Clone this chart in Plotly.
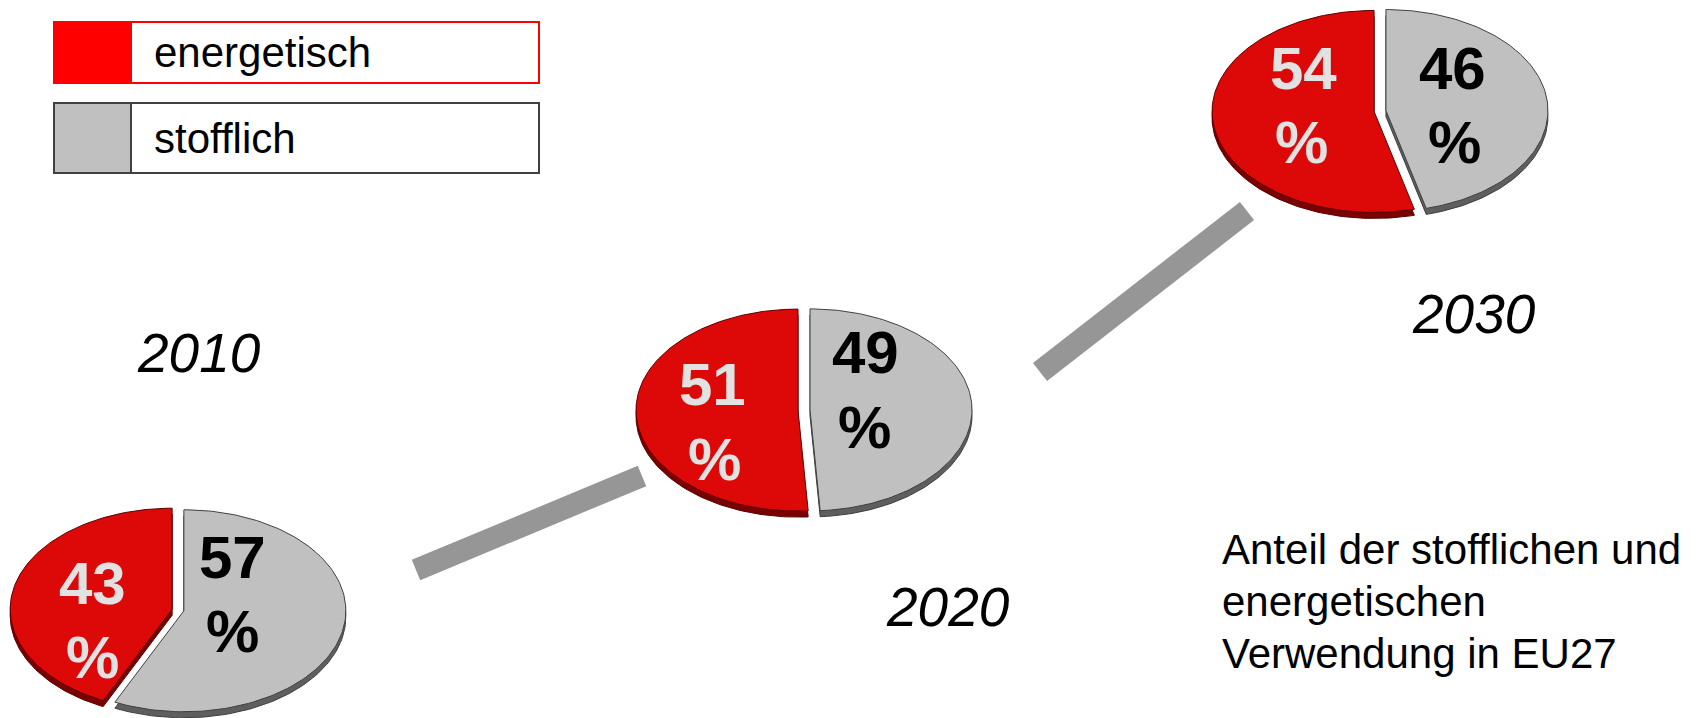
import numpy as np
import plotly.graph_objects as go

# ---- data ----
years = ["2010", "2020", "2030"]
energetisch = [43, 51, 54]   # % energetische Verwendung
stofflich = [57, 49, 46]     # % stoffliche Verwendung
legend_labels = ["energetisch", "stofflich"]
caption_lines = ["Anteil der stofflichen und", "energetischen", "Verwendung in EU27"]

# ---- layout constants (pixels) ----
W, H = 1699, 718
centers = [(178, 610), (804, 410), (1380, 111)]
RX, RY = 162, 101
EXPLODE = 6
DEPTH = 6
FONT = "Arial, Liberation Sans, sans-serif"

RED, RED_SIDE, RED_EDGE = "#DD0808", "#7A0000", "#5A0000"
GRAY, GRAY_SIDE, GRAY_EDGE = "#C0C0C0", "#5E5E5E", "#404040"

# label positions: (red number, red %, gray number, gray %)
label_pos = [
    [(92, 583), (92, 657), (232, 557), (232, 631)],
    [(712, 384), (714, 459), (865, 352), (864, 427)],
    [(1303, 68), (1301, 142), (1452, 68), (1454, 142)],
]
year_pos = [(199, 353), (948, 607), (1474, 314)]
connectors = [((416, 570), (642, 476), 22), ((1040, 372), (1247, 211), 23)]


def slice_xy(cx, cy, t0, t1, dy=0, n=140):
    tm = (t0 + t1) / 2
    ox = EXPLODE * np.sin(tm)
    oy = -EXPLODE * np.cos(tm) * 0.6
    th = np.linspace(t0, t1, n)
    xs = np.concatenate([[cx + ox], cx + ox + RX * np.sin(th), [cx + ox]])
    ys = np.concatenate([[cy + oy + dy], cy + oy + dy - RY * np.cos(th), [cy + oy + dy]])
    return xs, ys


fig = go.Figure()

for i, yr in enumerate(years):
    cx, cy = centers[i]
    total = energetisch[i] + stofflich[i]
    split = 2 * np.pi * stofflich[i] / total
    parts = [
        (0, split, GRAY, GRAY_SIDE, GRAY_EDGE),          # stofflich, clockwise from top
        (split, 2 * np.pi, RED, RED_SIDE, RED_EDGE),    # energetisch
    ]
    # sides (3D depth)
    for t0, t1, face, side, edge in parts:
        xs, ys = slice_xy(cx, cy, t0, t1, dy=DEPTH)
        fig.add_trace(go.Scatter(x=xs, y=ys, mode="lines", fill="toself",
                                 fillcolor=side, line=dict(color=edge, width=1),
                                 hoverinfo="skip", showlegend=False))
    # top faces
    for t0, t1, face, side, edge in parts:
        xs, ys = slice_xy(cx, cy, t0, t1)
        fig.add_trace(go.Scatter(x=xs, y=ys, mode="lines", fill="toself",
                                 fillcolor=face, line=dict(color=edge, width=1),
                                 hoverinfo="skip", showlegend=False))

annotations = []
for i, yr in enumerate(years):
    rp, rpp, gp, gpp = label_pos[i]
    for (x, y), txt, col in [(rp, str(energetisch[i]), "#E2E2E2"), (rpp, "%", "#E2E2E2"),
                             (gp, str(stofflich[i]), "#000000"), (gpp, "%", "#000000")]:
        annotations.append(dict(x=x, y=y, xref="x", yref="y", text=txt, showarrow=False,
                                xanchor="center", yanchor="middle",
                                font=dict(family=FONT, size=60, color=col, weight="bold")))
    annotations.append(dict(x=year_pos[i][0], y=year_pos[i][1], xref="x", yref="y", text=yr,
                            showarrow=False, xanchor="center", yanchor="middle",
                            font=dict(family=FONT, size=55, color="#000000", style="italic")))

for k, line in enumerate(caption_lines):
    annotations.append(dict(x=1220, y=549 + 52 * k, xref="x", yref="y", text=line,
                            showarrow=False, xanchor="left", yanchor="middle",
                            font=dict(family=FONT, size=42, color="#000000")))

# legend boxes
shapes = []
leg_boxes = [(22, 83, "#FF0000", "#FF0000"), (103, 173, GRAY, "#404040")]
for (y0, y1, fill, edge), lab in zip(leg_boxes, legend_labels):
    shapes.append(dict(type="rect", xref="x", yref="y", x0=54, x1=131, y0=y0, y1=y1,
                       fillcolor=fill, line=dict(color=edge, width=2)))
    shapes.append(dict(type="rect", xref="x", yref="y", x0=131, x1=539, y0=y0, y1=y1,
                       fillcolor="white", line=dict(color=edge, width=2)))
    annotations.append(dict(x=152, y=(y0 + y1) / 2, xref="x", yref="y", text=lab,
                            showarrow=False, xanchor="left", yanchor="middle",
                            font=dict(family=FONT, size=42, color="#000000")))

for (x0, y0), (x1, y1), w in connectors:
    shapes.append(dict(type="line", xref="x", yref="y", x0=x0, y0=y0, x1=x1, y1=y1,
                       line=dict(color="#969696", width=w), layer="below"))

fig.update_layout(
    width=W, height=H, margin=dict(l=0, r=0, t=0, b=0),
    paper_bgcolor="white", plot_bgcolor="white",
    xaxis=dict(range=[0, W], visible=False, fixedrange=True),
    yaxis=dict(range=[H, 0], visible=False, fixedrange=True),
    shapes=shapes, annotations=annotations, showlegend=False,
)

fig.write_html("out.html", config={"displayModeBar": False},
               post_script="document.body.style.margin='0';document.body.style.overflow='hidden';")
